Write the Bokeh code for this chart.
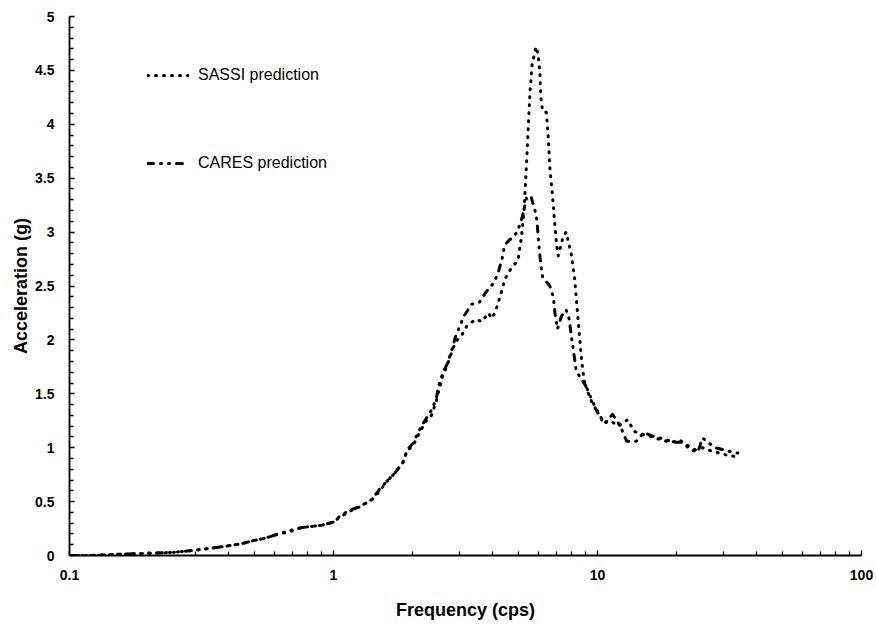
from bokeh.plotting import figure
from bokeh.models import FixedTicker, Legend, LegendItem, Range1d
from bokeh.embed import file_html
from bokeh.resources import INLINE

# ---- data ----
sassi_freq = [0.1, 0.12, 0.15, 0.2, 0.25, 0.3, 0.35, 0.4, 0.45, 0.5, 0.55, 0.6, 0.68, 0.76, 0.83, 0.9,
              1.0, 1.05, 1.15, 1.25, 1.4, 1.5, 1.58, 1.7, 1.83, 1.9, 2.0, 2.1, 2.23, 2.35, 2.45, 2.5,
              2.58, 2.67, 2.8, 2.9, 3.07, 3.2, 3.45, 3.66, 3.85, 4.0, 4.15, 4.3, 4.45, 4.7, 5.0, 5.15,
              5.27, 5.35, 5.45, 5.55, 5.65, 5.85, 5.95, 6.05, 6.1, 6.2, 6.4, 6.5, 6.6, 6.8, 6.9, 7.0,
              7.1, 7.4, 7.6, 7.95, 8.2, 8.3, 8.5, 8.7, 8.9, 9.3, 9.7, 10.2, 10.6, 11.2, 12.0, 13.0,
              13.8, 15.0, 16.1, 17.5, 19.0, 20.5, 22.0, 23.5, 25.0, 27.0, 29.0, 31.0, 33.0]
sassi_acc = [0.0, 0.0, 0.01, 0.02, 0.03, 0.05, 0.07, 0.09, 0.11, 0.14, 0.16, 0.19, 0.22, 0.26, 0.27, 0.28,
             0.31, 0.35, 0.41, 0.45, 0.52, 0.6, 0.68, 0.76, 0.86, 0.97, 1.02, 1.12, 1.24, 1.3, 1.43, 1.52,
             1.65, 1.74, 1.88, 1.98, 2.05, 2.13, 2.19, 2.17, 2.25, 2.2, 2.3, 2.42, 2.56, 2.66, 2.74, 2.95,
             3.2, 3.5, 3.9, 4.3, 4.55, 4.72, 4.65, 4.48, 4.25, 4.12, 4.11, 3.9, 3.6, 3.25, 3.05, 2.88,
             2.78, 2.95, 3.0, 2.8, 2.56, 2.4, 2.1, 1.82, 1.62, 1.5, 1.4, 1.3, 1.23, 1.25, 1.2, 1.26,
             1.15, 1.12, 1.1, 1.07, 1.05, 1.07, 1.02, 0.98, 1.0, 0.97, 0.95, 0.93, 0.92]

cares_freq = [0.1, 0.12, 0.15, 0.2, 0.25, 0.3, 0.35, 0.4, 0.45, 0.5, 0.55, 0.6, 0.68, 0.76, 0.83, 0.9,
              1.0, 1.05, 1.15, 1.25, 1.4, 1.5, 1.58, 1.7, 1.83, 1.9, 2.0, 2.1, 2.23, 2.35, 2.45, 2.5,
              2.6, 2.7, 2.8, 2.9, 3.0, 3.12, 3.33, 3.57, 3.8, 4.05, 4.2, 4.35, 4.45, 4.65, 4.8, 5.0,
              5.2, 5.4, 5.6, 5.8, 5.9, 6.0, 6.1, 6.2, 6.4, 6.6, 6.8, 6.9, 7.05, 7.3, 7.6, 7.8, 8.0,
              8.3, 8.6, 9.0, 9.4, 10.0, 10.6, 11.4, 12.2, 12.9, 14.0, 15.0, 16.5, 18.0, 19.5, 21.0,
              22.5, 24.0, 25.0, 26.5, 28.0, 30.0, 32.4, 34.0]
cares_acc = [0.0, 0.0, 0.01, 0.02, 0.03, 0.05, 0.07, 0.09, 0.11, 0.14, 0.16, 0.19, 0.23, 0.26, 0.27, 0.28,
             0.31, 0.36, 0.42, 0.45, 0.52, 0.62, 0.68, 0.76, 0.86, 0.98, 1.04, 1.15, 1.26, 1.35, 1.45, 1.57,
             1.7, 1.78, 1.9, 2.03, 2.12, 2.22, 2.33, 2.35, 2.45, 2.53, 2.62, 2.75, 2.88, 2.93, 2.95, 3.02,
             3.15, 3.33, 3.33, 3.2, 3.1, 2.87, 2.7, 2.58, 2.54, 2.5, 2.4, 2.25, 2.1, 2.22, 2.28, 2.2, 2.0,
             1.72, 1.65, 1.58, 1.45, 1.33, 1.22, 1.31, 1.2, 1.06, 1.06, 1.14, 1.1, 1.08, 1.05, 1.05,
             0.98, 0.96, 1.09, 1.04, 1.0, 0.98, 0.96, 0.95]

x_ticks = [0.1, 1, 10, 100]
x_tick_labels = ["0.1", "1", "10", "100"]
y_ticks = [0, 0.5, 1, 1.5, 2, 2.5, 3, 3.5, 4, 4.5, 5]
y_tick_labels = ["0", "0.5", "1", "1.5", "2", "2.5", "3", "3.5", "4", "4.5", "5"]

FONT = "Liberation Sans"

p = figure(x_axis_type="log", x_range=Range1d(0.1, 100), y_range=Range1d(0, 5),
           frame_width=792, frame_height=539,
           min_border_left=69, min_border_right=12, min_border_top=16, min_border_bottom=62,
           output_backend="svg", toolbar_location=None)
p.outline_line_color = None
p.xgrid.visible = False
p.ygrid.visible = False
p.background_fill_color = "white"
p.border_fill_color = "white"

r1 = p.line(sassi_freq, sassi_acc, line_color="black", line_width=3,
            line_dash="1 7", line_cap="round", line_join="round")
r2 = p.line(cares_freq, cares_acc, line_color="black", line_width=3,
            line_dash="6 7 1 7 1 7", line_cap="round", line_join="round")

x_minor = [m * d for d in (0.1, 1, 10) for m in range(2, 10)]
y_minor = [i / 10 for i in range(51) if i % 5 != 0]
p.xaxis.ticker = FixedTicker(ticks=x_ticks, minor_ticks=x_minor)
p.yaxis.ticker = FixedTicker(ticks=y_ticks, minor_ticks=y_minor)
p.xaxis.major_label_overrides = dict(zip(x_ticks, x_tick_labels))
p.yaxis.major_label_overrides = dict(zip(y_ticks, y_tick_labels))

p.xaxis.axis_label = "Frequency (cps)"
p.yaxis.axis_label = "Acceleration (g)"

for ax in (p.xaxis[0], p.yaxis[0]):
    ax.axis_line_color = "black"
    ax.axis_line_width = 1.8
    ax.major_tick_line_color = "black"
    ax.minor_tick_line_color = "black"
    ax.major_tick_line_width = 1.3
    ax.minor_tick_line_width = 1.3
    ax.major_tick_in = 5
    ax.major_tick_out = 0
    ax.minor_tick_in = 4
    ax.minor_tick_out = 0
    ax.major_label_text_font = FONT
    ax.major_label_text_font_style = "bold"
    ax.major_label_text_font_size = "14px"
    ax.major_label_text_color = "black"
    ax.axis_label_text_font = FONT
    ax.axis_label_text_font_style = "bold"
    ax.axis_label_text_font_size = "18px"
    ax.axis_label_text_color = "black"

p.xaxis.major_label_standoff = 14
p.xaxis.axis_label_standoff = 17
p.yaxis.major_label_standoff = 15
p.yaxis.axis_label_standoff = 1


def make_legend(label, renderer, bottom_from_bottom):
    leg = Legend(items=[LegendItem(label=label, renderers=[renderer])],
                 location=(78, bottom_from_bottom))
    leg.border_line_color = None
    leg.background_fill_alpha = 0
    leg.padding = 0
    leg.margin = 0
    leg.glyph_width = 42
    leg.glyph_height = 18
    leg.label_height = 18
    leg.label_standoff = 9
    leg.label_text_font = FONT
    leg.label_text_font_size = "16px"
    leg.label_text_color = "black"
    leg.label_text_baseline = "middle"
    return leg


p.add_layout(make_legend("SASSI prediction", r1, 539 - 68))
p.add_layout(make_legend("CARES prediction", r2, 539 - 156))

open("out.html", "w").write(file_html(p, INLINE))
